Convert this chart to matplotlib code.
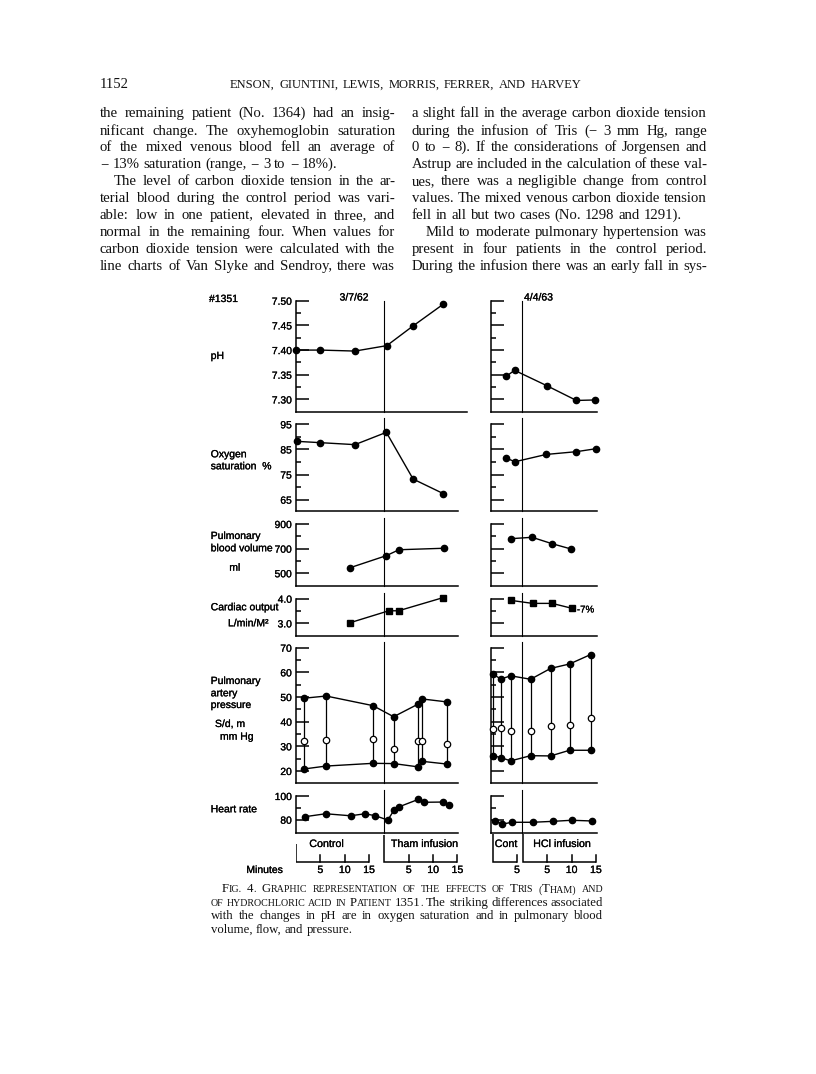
import matplotlib
matplotlib.use('Agg')
import matplotlib.pyplot as plt
import matplotlib.patheffects as pe
from matplotlib.ticker import FixedLocator

W, H = 816, 1074
SANS = ['Liberation Sans', 'DejaVu Sans']
SERIF = ['Liberation Serif', 'DejaVu Serif']
plt.rcParams['font.family'] = SANS
BOLDEN = [pe.withStroke(linewidth=0.18, foreground='k')]

PPM = 4.87  # pixels per minute on the time axes

# ---- data
# left = 3/7/62 (control, Tham infusion); right = 4/4/63 (control, HCl infusion)
# times are minutes from the start of each period
ph_L_c, ph_L_i = [0.1, 5.0, 12.1], [0.5, 5.9, 12.1]
ph_L = [7.400, 7.400, 7.398, 7.409, 7.449, 7.493]
ph_R_c, ph_R_i = [2.8, 4.5], [4.9, 11.0, 14.9]
ph_R = [7.347, 7.359, 7.328, 7.298, 7.299]

o2_L_c, o2_L_i = [0.3, 4.9, 12.1], [0.4, 5.9, 12.1]
o2_L = [88.2, 87.7, 86.9, 91.8, 73.2, 67.4]
o2_R_c, o2_R_i = [2.8, 4.6], [4.8, 11.0, 15.1]
o2_R = [81.5, 80.1, 83.0, 84.1, 85.3]

pbv_L_c, pbv_L_i = [11.1], [0.4, 3.0, 12.2]
pbv_L = [545, 643, 691, 703]
pbv_R_c, pbv_R_i = [3.8], [1.9, 6.0, 9.9]
pbv_R = [781, 792, 740, 697]

co_L_c, co_L_i = [11.0], [0.9, 2.9, 12.0]
co_L = [3.02, 3.51, 3.51, 4.04]
co_R_c, co_R_i = [3.8], [2.0, 6.0, 10.1]
co_R = [3.93, 3.81, 3.81, 3.61]
co_change = ['+37%', '-7%']

pap_L_c, pap_L_i = [1.6, 6.2, 15.8], [1.9, 6.8, 7.8, 12.9]
pap_L_s = [49.5, 50.4, 46.5, 42.0, 47.0, 49.2, 48.0]
pap_L_d = [20.8, 22.0, 23.1, 23.0, 21.7, 23.9, 22.8]
pap_L_m = [32.3, 32.5, 33.1, 28.9, 32.0, 32.2, 31.1]
pap_R_c, pap_R_i = [0.1, 1.7, 3.7], [1.6, 5.7, 9.6, 13.9]
pap_R_s = [59.2, 57.3, 58.6, 57.2, 61.6, 63.4, 67.2]
pap_R_d = [26.2, 25.4, 24.1, 26.2, 26.1, 28.4, 28.4]
pap_R_m = [37.0, 37.3, 36.3, 36.3, 38.4, 38.8, 41.4]

hr_L_c = [1.8, 6.1, 11.2, 14.2, 16.3]
hr_L_i = [0.7, 2.0, 3.1, 7.0, 8.2, 12.1, 13.3]
hr_L = [82.5, 85.0, 83.3, 85.0, 83.3, 79.7, 88.2, 91.0, 97.2, 94.7, 94.9, 92.6]
hr_R_c, hr_R_i = [0.5, 2.0, 4.0], [2.0, 6.2, 10.0, 14.2]
hr_R = [78.9, 76.3, 77.8, 77.8, 78.6, 79.5, 78.9]

minute_ticks = [5, 10, 15]

# y scales: (bottom, top, major ticks, minor ticks, label format)
scales = {
    'ph': (7.274, 7.50, [7.30, 7.35, 7.40, 7.45, 7.50], [7.325, 7.375, 7.425, 7.475], '%.2f'),
    'o2': (60.6, 95, [65, 75, 85, 95], [70, 80, 90], '%d'),
    'pbv': (399, 900, [500, 700, 900], [600, 800], '%d'),
    'co': (2.5, 4.0, [3.0, 4.0], [3.5], '%.1f'),
    'pap': (15.0, 70, [20, 30, 40, 50, 60, 70], [25, 35, 45, 55, 65], '%d'),
    'hr': (69.0, 100, [80, 100], [90], '%d'),
}
# vertical pixel extent of each row
rows = {'ph': (300.7, 412.3), 'o2': (424.3, 510.7), 'pbv': (524, 585.7),
        'co': (598.7, 635.7), 'pap': (647.7, 783.3), 'hr': (796, 832.7)}

# x layout: left panel starts at 296 px, right one at 490.7 px
L = dict(x0=296, ctrl=0.0, inf=18.15, div=18.1)
R = dict(x0=490.7, ctrl=0.4, inf=6.6, div=6.4)

fig = plt.figure(figsize=(W / 100, H / 100), dpi=100)
fig.patch.set_facecolor('white')


def axes_px(x0, y0, x1, y1):
    ax = fig.add_axes([x0 / W, 1 - y1 / H, (x1 - x0) / W, (y1 - y0) / H])
    ax.set_xlim(0, (x1 - x0) / PPM)
    ax.patch.set_alpha(0)
    return ax


def panel(key, side, x1, labels):
    y0, y1 = rows[key]
    ax = axes_px(side['x0'], y0, x1, y1)
    lo, hi, major, minor, fmt = scales[key]
    ax.set_ylim(lo, hi)
    ax.spines['top'].set_visible(False)
    ax.spines['right'].set_visible(False)
    ax.spines['left'].set_linewidth(1.1)
    ax.spines['bottom'].set_linewidth(1.1)
    ax.set_xticks([])
    ax.yaxis.set_major_locator(FixedLocator(major))
    ax.yaxis.set_minor_locator(FixedLocator(minor))
    ax.set_yticklabels([fmt % v for v in major] if labels else [])
    ax.tick_params(axis='y', which='major', direction='in', length=9, width=1.1,
                   pad=3, labelsize=7.4, left=True, labelleft=labels)
    ax.tick_params(axis='y', which='minor', direction='in', length=3.6, width=1.1)
    for t in ax.get_yticklabels():
        t.set_path_effects(BOLDEN)
    ext = 0 if key == 'ph' else 6 / (y1 - y0)
    ax.axvline(side['div'], 0, 1 + ext, color='k', lw=0.8, clip_on=False)
    return ax


def pos(side, tc, ti):
    return [side['ctrl'] + t for t in tc] + [side['inf'] + t for t in ti]


def trace(ax, x, y, marker='o'):
    ax.plot(x, y, '-', color='k', lw=1.0, marker=marker, ms=4.5, mfc='k', mec='k',
            clip_on=False)


# ---- left panel (3/7/62)
ax = panel('ph', L, 467, True)
trace(ax, pos(L, ph_L_c, ph_L_i), ph_L)
ax = panel('o2', L, 458, True)
trace(ax, pos(L, o2_L_c, o2_L_i), o2_L)
ax = panel('pbv', L, 458, True)
trace(ax, pos(L, pbv_L_c, pbv_L_i), pbv_L)
ax = panel('co', L, 458, True)
xx = pos(L, co_L_c, co_L_i)
trace(ax, xx, co_L, 's')
ax.annotate(co_change[0], (xx[-1], co_L[-1]), xytext=(4.5, -3.5), textcoords='offset points',
            ha='left', va='center', fontsize=7, path_effects=BOLDEN)
ax = panel('pap', L, 458, True)
xx = pos(L, pap_L_c, pap_L_i)
ax.vlines(xx, pap_L_d, pap_L_s, color='k', lw=0.9)
trace(ax, xx, pap_L_s)
trace(ax, xx, pap_L_d)
ax.plot(xx, pap_L_m, 'o', ms=4.6, mfc='white', mec='k', mew=0.9, zorder=3)
ax = panel('hr', L, 458, True)
trace(ax, pos(L, hr_L_c, hr_L_i), hr_L)

# ---- right panel (4/4/63)
ax = panel('ph', R, 597, False)
trace(ax, pos(R, ph_R_c, ph_R_i), ph_R)
ax = panel('o2', R, 597, False)
trace(ax, pos(R, o2_R_c, o2_R_i), o2_R)
ax = panel('pbv', R, 597, False)
trace(ax, pos(R, pbv_R_c, pbv_R_i), pbv_R)
ax = panel('co', R, 597, False)
xx = pos(R, co_R_c, co_R_i)
trace(ax, xx, co_R, 's')
ax.annotate(co_change[1], (xx[-1], co_R[-1]), xytext=(3.5, -0.8), textcoords='offset points',
            ha='left', va='center', fontsize=7, path_effects=BOLDEN)
ax = panel('pap', R, 597, False)
xx = pos(R, pap_R_c, pap_R_i)
ax.vlines(xx, pap_R_d, pap_R_s, color='k', lw=0.9)
trace(ax, xx, pap_R_s)
trace(ax, xx, pap_R_d)
ax.plot(xx, pap_R_m, 'o', ms=4.6, mfc='white', mec='k', mew=0.9, zorder=3, clip_on=False)
ax = panel('hr', R, 597, False)
trace(ax, pos(R, hr_R_c, hr_R_i), hr_R)


# ---- time brackets under the panels (y in pixels)
def bracket(ax, start, length, top, ticks, label, label_at):
    ax.plot([start, start, start + length], [top, 862, 862], 'k-', lw=1.1,
            solid_joinstyle='miter', solid_capstyle='butt')
    for tk in ticks:
        ax.plot([start + tk] * 2, [862, 854.5], 'k-', lw=1.1)
        ax.text(start + tk, 870, str(tk), ha='center', va='center', fontsize=7.6,
                path_effects=BOLDEN)
    ax.text(start + label_at, 844, label, ha='center', va='center', fontsize=7.7,
            path_effects=BOLDEN)


bl = axes_px(L['x0'], 828, 470, 880)
bl.set_ylim(880, 828)
bl.axis('off')
bracket(bl, L['ctrl'], 15, 844, minute_ticks, 'Control', 6.3)
bracket(bl, L['inf'], 15, 834.5, minute_ticks, 'Tham infusion', 8.3)
br = axes_px(R['x0'], 828, 600, 880)
br.set_ylim(880, 828)
br.axis('off')
bracket(br, R['ctrl'], 5, 833.5, minute_ticks[:1], 'Cont', 2.75)
bracket(br, R['inf'], 15, 833.5, minute_ticks, 'HCl infusion', 8.1)


# ---- chart labels
def ftxt(x, y, s, **kw):
    kw.setdefault('fontsize', 7.5)
    kw.setdefault('va', 'center')
    fig.text(x / W, 1 - y / H, s, path_effects=BOLDEN, **kw)


ftxt(209, 299, '#1351')
ftxt(354, 297.5, '3/7/62', ha='center')
ftxt(524, 297.5, '4/4/63')
ftxt(210.7, 356, 'pH')
ftxt(210.7, 454.3, 'Oxygen')
ftxt(210.7, 466.3, 'saturation  %')
ftxt(210.7, 536, 'Pulmonary')
ftxt(210.7, 548.3, 'blood volume')
ftxt(229.3, 567.7, 'ml')
ftxt(210.7, 607.3, 'Cardiac output')
ftxt(228, 623.3, 'L/min/M²')
ftxt(210.7, 681, 'Pulmonary')
ftxt(210.7, 693.3, 'artery')
ftxt(210.7, 705, 'pressure')
ftxt(215, 724, 'S/d, m')
ftxt(220, 736.7, 'mm Hg')
ftxt(210.7, 809.3, 'Heart rate')
ftxt(283, 870, 'Minutes', ha='right')

# ---- page text (justified word by word)
r = fig.canvas.get_renderer()


def set_line(words, x0, x1, y, family, justify=True, min_gap=0.2):
    scale = 1.0
    for _ in range(4):
        placed = []
        for w in words:
            segs = []
            for s, fs in w:
                t = fig.text(0, 0, s, fontsize=fs * scale, family=family, va='baseline',
                             color='#111111')
                segs.append((t, t.get_window_extent(r).width))
            placed.append(segs)
        widths = [sum(d for _, d in segs) for segs in placed]
        base = words[0][0][1] * scale * 100 / 72
        need = sum(widths) + min_gap * base * (len(placed) - 1)
        if not justify or need <= x1 - x0:
            break
        for segs in placed:
            for t, _ in segs:
                t.remove()
        scale *= (x1 - x0) / need * 0.998
    gap = base * 0.27
    if justify and len(placed) > 1:
        gap = (x1 - x0 - sum(widths)) / (len(placed) - 1)
    x = x0
    for segs, wd in zip(placed, widths):
        for t, d in segs:
            t.set_position((x / W, 1 - y / H))
            x += d
        x += gap


def plain(line, fs):
    return [[(w, fs)] for w in line.split()]


def smallcaps(line, big, small):
    out = []
    for w in line.split():
        segs = []
        for ch in w:
            s = (ch, big) if (ch.isupper() or ch.isdigit()) else (ch.upper(), small)
            if segs and segs[-1][1] == s[1]:
                segs[-1] = (segs[-1][0] + s[0], s[1])
            else:
                segs.append(s)
        out.append(segs)
    return out


set_line(plain('1152', 10.5), 100, 130, 88, SERIF, False)
set_line(plain('ENSON, GIUNTINI, LEWIS, MORRIS, FERRER, AND HARVEY', 9), 230, 581, 88, SERIF)

left_col = [
    'the remaining patient (No. 1364) had an insig-',
    'nificant change. The oxyhemoglobin saturation',
    'of the mixed venous blood fell an average of',
    '− 13% saturation (range, − 3 to − 18%).',
    'The level of carbon dioxide tension in the ar-',
    'terial blood during the control period was vari-',
    'able: low in one patient, elevated in three, and',
    'normal in the remaining four. When values for',
    'carbon dioxide tension were calculated with the',
    'line charts of Van Slyke and Sendroy, there was',
]
right_col = [
    'a slight fall in the average carbon dioxide tension',
    'during the infusion of Tris (− 3 mm Hg, range',
    '0 to − 8). If the considerations of Jorgensen and',
    'Astrup are included in the calculation of these val-',
    'ues, there was a negligible change from control',
    'values. The mixed venous carbon dioxide tension',
    'fell in all but two cases (No. 1298 and 1291).',
    'Mild to moderate pulmonary hypertension was',
    'present in four patients in the control period.',
    'During the infusion there was an early fall in sys-',
]
line_y = [113.3, 130.7, 147.3, 164, 181.3, 198.3, 215, 232, 249, 266.3]
for col, (x0, x1), last, indent in [(left_col, (100, 395), 3, 4), (right_col, (412, 707), 6, 7)]:
    for i, (ln, y) in enumerate(zip(col, line_y)):
        xs = x0 + (14 if i == indent else 0)
        set_line(plain(ln, 10.6), xs, x1, y + 4, SERIF, justify=(i != last))

cap = [
    (smallcaps('Fig. 4. Graphic representation of the effects of Tris (Tham) and', 9.2, 7.2), 221.7, True),
    (smallcaps('of hydrochloric acid in Patient 1351.', 9.2, 7.2)
     + plain('The striking differences associated', 9.2), 210.7, True),
    (plain('with the changes in pH are in oxygen saturation and in pulmonary blood', 9.2), 210.7, True),
    (plain('volume, flow, and pressure.', 9.2), 210.7, False),
]
for (words, xs, just), y in zip(cap, [889, 902.3, 915.7, 929.5]):
    set_line(words, xs, 603.3, y + 3.5, SERIF, justify=just)

fig.savefig('out.png', dpi=100, facecolor='white')
